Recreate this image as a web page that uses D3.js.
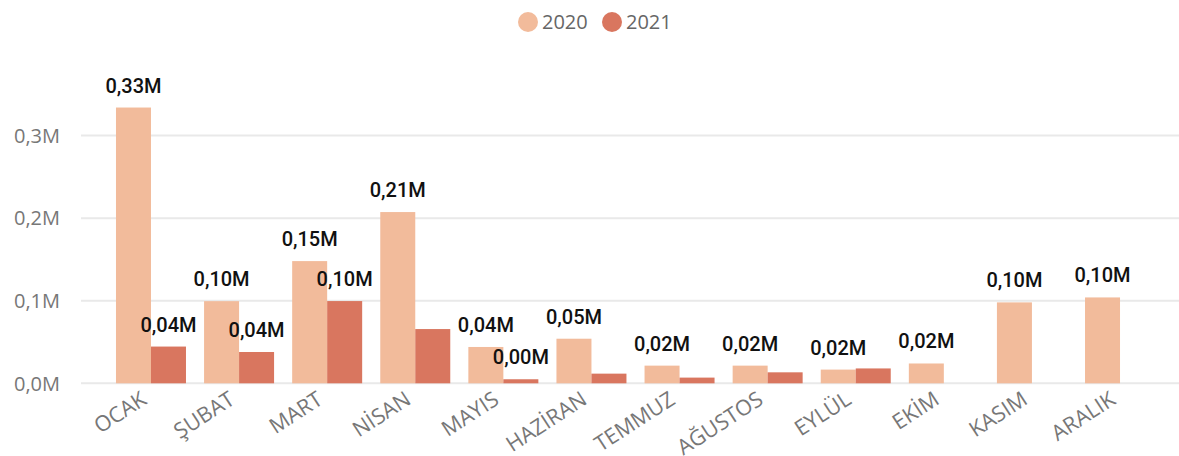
<!DOCTYPE html>
<html>
<head>
<meta charset="utf-8">
<script src="https://cdn.jsdelivr.net/npm/d3@7"></script>
<style>
  html, body { margin: 0; padding: 0; background: #ffffff; }
  svg { display: block; }
</style>
</head>
<body>
<svg id="chart" width="1179" height="456"></svg>
<script>
// Monthly totals, 2020 vs 2021
const months = ["OCAK", "ŞUBAT", "MART", "NİSAN", "MAYIS", "HAZİRAN",
                "TEMMUZ", "AĞUSTOS", "EYLÜL", "EKİM", "KASIM", "ARALIK"];
const values2020 = [334000, 99500, 148000, 207400, 44000, 54000,
                    21400, 21400, 16600, 24000, 98000, 104000];
const values2021 = [44500, 37900, 99600, 65700, 4900, 11700,
                    6900, 13300, 18000, null, null, null];
// which bars carry a data label
const labelled2020 = [true, true, true, true, true, true, true, true, true, true, true, true];
const labelled2021 = [true, true, true, false, true, false, false, false, false, false, false, false];
const yTicks = [0, 100000, 200000, 300000];
const seriesNames = ["2020", "2021"];

const colors = ["#F2BB9B", "#D9765F"];
const svg = d3.select("#chart");

const x0 = d3.scaleBand()
  .domain(months)
  .range([101, 1170])
  .paddingInner(0.2054)
  .paddingOuter(0.17);

const x1 = d3.scaleBand()
  .domain(seriesNames)
  .range([0, x0.bandwidth()]);

const y = d3.scaleLinear()
  .domain([0, 300000])
  .range([383.3, 135.6]);

const fmtM = v => d3.format(".1f")(v / 1e6).replace(".", ",") + "M";
const fmtLabel = v => d3.format(".2f")(v / 1e6).replace(".", ",") + "M";

// gridlines and y tick labels
const yAxis = svg.append("g").attr("class", "y-axis");
yAxis.selectAll("line")
  .data(yTicks)
  .join("line")
  .attr("x1", 81).attr("x2", 1179)
  .attr("y1", d => y(d)).attr("y2", d => y(d))
  .attr("stroke", "#e9e9e9")
  .attr("stroke-width", 2);
yAxis.selectAll("text")
  .data(yTicks)
  .join("text")
  .attr("x", 60)
  .attr("y", d => y(d))
  .attr("dy", "0.36em")
  .attr("text-anchor", "end")
  .attr("fill", "#777777")
  .style("font-family", "'Open Sans', 'Noto Sans', sans-serif")
  .style("font-size", "20px")
  .text(fmtM);

// bars
const rows = months.map((m, i) => ({
  month: m,
  items: [
    { s: "2020", v: values2020[i], lab: labelled2020[i], c: colors[0] },
    { s: "2021", v: values2021[i], lab: labelled2021[i], c: colors[1] }
  ].filter(d => d.v !== null)
}));

const groups = svg.append("g").selectAll("g")
  .data(rows)
  .join("g")
  .attr("transform", d => `translate(${x0(d.month)},0)`);

groups.selectAll("rect")
  .data(d => d.items)
  .join("rect")
  .attr("x", d => x1(d.s))
  .attr("width", x1.bandwidth())
  .attr("y", d => y(d.v))
  .attr("height", d => y(0) - y(d.v))
  .attr("fill", d => d.c);

// data labels above bars
groups.selectAll("text")
  .data(d => d.items.filter(it => it.lab))
  .join("text")
  .attr("x", d => x1(d.s) + x1.bandwidth() / 2)
  .attr("y", d => y(d.v) - 15)
  .attr("text-anchor", "middle")
  .attr("fill", "#111111")
  .style("font-family", "Roboto, 'DejaVu Sans', sans-serif")
  .style("font-weight", "500")
  .style("font-size", "20px")
  .text(d => fmtLabel(d.v));

// x category labels, rotated
svg.append("g").selectAll("text")
  .data(months)
  .join("text")
  .attr("transform", d => `translate(${x0(d) + x0.bandwidth() / 2 - 3},403) rotate(-33)`)
  .attr("text-anchor", "end")
  .attr("fill", "#777777")
  .style("font-family", "'Open Sans', 'Noto Sans', sans-serif")
  .style("font-size", "21.5px")
  .text(d => d);

// legend
const legend = svg.append("g").selectAll("g")
  .data(seriesNames)
  .join("g")
  .attr("transform", (d, i) => `translate(${i === 0 ? 528 : 612},22)`);
legend.append("circle")
  .attr("r", 10)
  .attr("fill", (d, i) => colors[i]);
legend.append("text")
  .attr("x", 14)
  .attr("dy", "0.36em")
  .attr("fill", "#666666")
  .style("font-family", "'Open Sans', 'Noto Sans', sans-serif")
  .style("font-size", "20px")
  .text(d => d);
</script>
</body>
</html>
